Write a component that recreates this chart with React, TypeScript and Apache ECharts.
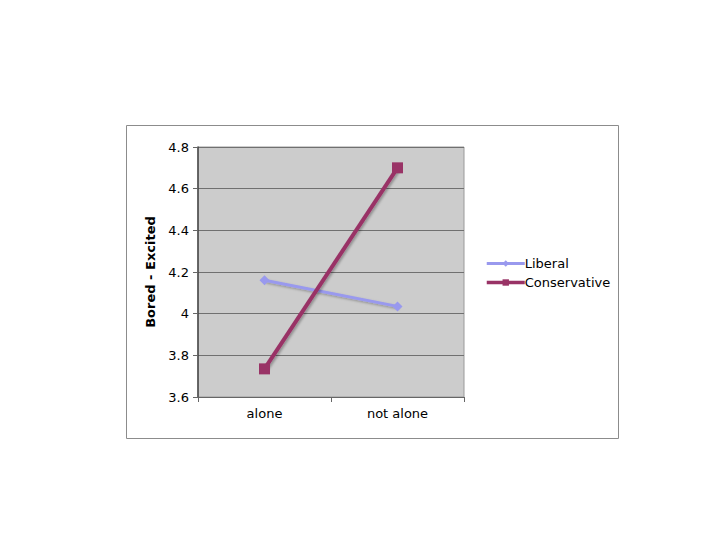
import React, { useEffect, useRef } from "react";
import * as echarts from "echarts";

const categories = ["alone", "not alone"];
const liberal = [4.16, 4.035];
const conservative = [3.735, 4.7];
const yTicks = { min: 3.6, max: 4.8, interval: 0.2 };

export default function App() {
  const ref = useRef<HTMLDivElement>(null);
  useEffect(() => {
    if (!ref.current) return;
    const chart = echarts.init(ref.current, undefined, { renderer: "svg" });
    const font = "DejaVu Sans, Verdana, sans-serif";
    chart.setOption({
      animation: false,
      backgroundColor: "#ffffff",
      textStyle: { fontFamily: font },
      graphic: [
        {
          type: "rect",
          z: -10,
          shape: { x: 126.5, y: 125.5, width: 492, height: 313 },
          style: { fill: "#ffffff", stroke: "#8c8c8c", lineWidth: 1 },
        },
      ],
      grid: {
        left: 198,
        top: 147,
        width: 266,
        height: 250,
        show: true,
        backgroundColor: "#cccccc",
        borderColor: "#9a9a9a",
        borderWidth: 1,
      },
      legend: {
        orient: "vertical",
        left: 480,
        top: 252,
        itemGap: 6,
        itemWidth: 38,
        itemHeight: 8,
        textStyle: { fontFamily: font, fontSize: 13, color: "#000", padding: [0, 0, 0, -5] },
        data: [
          { name: "Liberal", lineStyle: { width: 3 } },
          { name: "Conservative", lineStyle: { width: 3.5 } },
        ],
      },
      xAxis: {
        type: "category",
        data: categories,
        boundaryGap: true,
        axisLine: { lineStyle: { color: "#666666", width: 1 } },
        axisTick: { show: true, length: 5, lineStyle: { color: "#666666" } },
        axisLabel: { color: "#000", fontSize: 13, fontFamily: font, margin: 10 },
        splitLine: { show: false },
      },
      yAxis: {
        type: "value",
        min: yTicks.min,
        max: yTicks.max,
        interval: yTicks.interval,
        name: "Bored - Excited",
        nameLocation: "middle",
        nameGap: 41,
        nameTextStyle: { fontFamily: font, fontSize: 13, fontWeight: "bold", color: "#000" },
        axisLine: { show: true, lineStyle: { color: "#444444", width: 1.5 } },
        axisTick: { show: true, length: 5, lineStyle: { color: "#666666" } },
        axisLabel: {
          color: "#000",
          fontSize: 13,
          fontFamily: font,
          margin: 9,
          formatter: (v: number) => String(Math.round(v * 10) / 10),
        },
        splitLine: { show: true, lineStyle: { color: "#707070", width: 1 } },
      },
      series: [
        {
          name: "Liberal",
          type: "line",
          data: liberal,
          symbol: "diamond",
          symbolSize: 10,
          color: "#9999ee",
          lineStyle: {
            width: 3,
            color: "#9999ee",
            shadowColor: "rgba(0,0,0,0.3)",
            shadowOffsetX: 1.5,
            shadowOffsetY: 1.5,
            shadowBlur: 2,
          },
          itemStyle: { color: "#9999ee", borderWidth: 0 },
        },
        {
          name: "Conservative",
          type: "line",
          data: conservative,
          symbol: "rect",
          symbolSize: 11,
          color: "#993366",
          lineStyle: {
            width: 4,
            color: "#993366",
            shadowColor: "rgba(0,0,0,0.3)",
            shadowOffsetX: 1.5,
            shadowOffsetY: 1.5,
            shadowBlur: 2,
          },
          itemStyle: { color: "#993366", borderWidth: 0 },
        },
      ],
    });
    return () => chart.dispose();
  }, []);
  return (
    <div
      ref={ref}
      style={{ position: "fixed", left: 0, top: 0, width: 720, height: 540 }}
    />
  );
}
